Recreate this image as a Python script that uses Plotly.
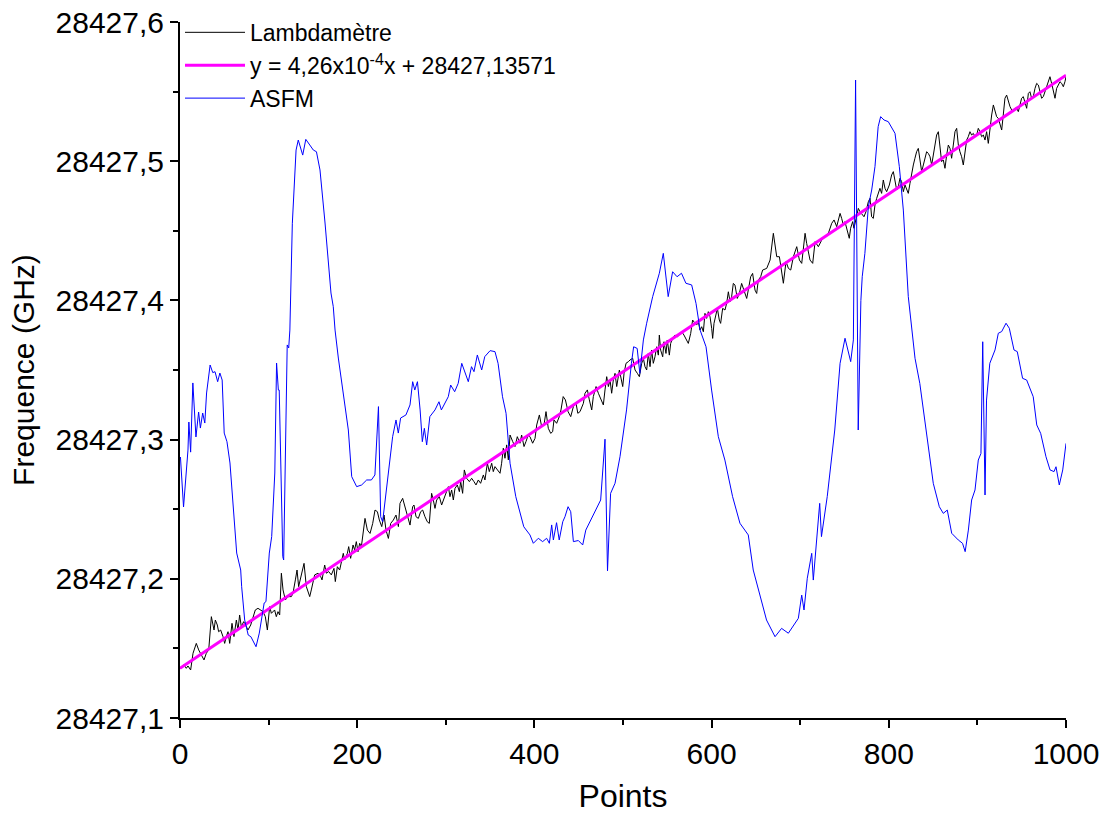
import plotly.graph_objects as go

# ---------------- data ----------------
lam_x = [1.5, 4.5, 7.1, 9.0, 12.0, 14.7, 18.4, 21.1, 24.1, 27.1, 29.7, 32.4, 35.4, 38.4, 39.9, 42.1, 43.6, 45.9,
         48.5, 50.4, 52.3, 54.2, 56.1, 58.7, 60.9, 63.6, 65.5, 67.3, 69.2, 71.9, 74.9, 76.7, 79.8, 82.4, 85.0,
         88.0, 91.0, 93.7, 96.3, 98.6, 101.2, 103.1, 106.8, 108.7, 110.6, 112.5, 114.4, 116.3, 118.9, 121.9,
         125.7, 127.5, 130.2, 132.1, 133.9, 136.9, 140.0, 142.6, 146.4, 148.2, 152.0, 155.8, 158.8, 160.3,
         163.3, 165.2, 167.8, 170.8, 173.8, 175.3, 177.6, 180.2, 182.1, 184.3, 185.8, 188.9, 190.4, 192.6,
         195.3, 197.1, 199.0, 200.9, 202.8, 204.7,
         208.8, 211.5, 214.5, 217.5, 220.1, 222.8, 225.0, 227.7, 230.3, 232.5, 235.2, 237.8, 240.8, 243.8, 246.5,
         248.3, 251.3, 253.9, 256.6, 259.6, 262.6, 264.1, 266.4, 269.0, 271.6, 273.9, 276.5, 279.1, 281.4,
         284.0, 285.9, 287.8, 289.7, 292.7, 295.3, 297.2, 299.1, 301.0, 302.9, 304.7, 306.6, 308.5, 310.4,
         313.0, 315.3, 316.8, 319.0, 320.9, 323.5, 326.6, 329.2, 331.8, 334.1, 336.7, 339.3, 342.4, 344.2,
         346.9, 349.1, 351.8, 353.6, 355.5, 358.2, 361.2, 363.0, 364.9, 366.8, 368.7, 370.6, 372.5, 375.5,
         378.1, 380.7, 383.7, 385.6, 388.3, 390.5, 393.1, 395.0, 398.0, 400.7, 402.6, 405.6, 408.2, 410.8,
         413.1, 415.7, 418.4, 420.6, 422.1, 425.1, 428.1,
         430.0, 432.5, 435.0, 438.0, 441.0, 444.0, 447.0, 449.0,
         451.5, 455.3, 457.1, 459.8, 462.0, 464.7, 466.5, 469.6, 472.2, 474.8, 477.8, 479.7, 481.6, 483.5,
         485.4, 487.2, 489.1, 491.0, 492.9, 495.9, 497.4, 499.7, 501.2, 503.4, 506.1, 507.9, 510.9, 513.6,
         516.2, 518.5,
         521.1, 523.0, 524.8, 526.7, 528.6, 530.5, 532.3, 534.2, 536.1, 538.0, 539.9, 541.0, 542.5, 544.8,
         546.3, 548.5, 550.0, 552.3, 553.8, 556.0, 558.7, 561.3, 563.6, 566.2, 568.8, 571.1, 573.7, 576.4,
         578.6, 581.3, 583.1, 585.0, 586.9, 588.8, 590.7, 592.5, 594.4, 596.3, 598.2, 600.1, 601.2, 602.7,
         604.9, 606.5, 608.7, 610.2, 612.5, 615.1, 617.0, 618.9, 620.8, 622.6, 624.5, 626.4, 629.0, 631.3,
         633.9, 636.6, 639.6, 641.4, 644.1, 646.3, 649.0, 650.9, 652.7, 655.4, 657.6,
         662.2, 666.0, 669.7, 673.5, 676.5, 679.1, 681.0, 684.0, 686.7, 689.3, 692.3, 696.1, 699.1, 701.7,
         705.5, 707.3, 711.1, 714.1, 716.8, 720.5, 724.3, 728.0, 731.8, 735.6, 738.2, 741.2, 745.0,
         746.8, 748.7, 750.5, 753.2, 755.4, 756.9, 759.2, 760.7, 763.0, 765.6, 767.5, 769.4, 772.0, 774.2,
         776.9, 778.8, 780.6, 782.5, 784.4, 786.3, 788.2, 790.0, 791.9, 793.8, 795.7, 797.6, 800.6, 803.2,
         805.1, 807.0, 808.9, 810.7, 812.6, 814.5, 816.4, 818.3, 820.1, 822.0, 823.9, 825.8, 827.7, 829.5,
         831.4, 833.3, 835.2, 837.1, 839.0, 840.8, 842.7, 844.6, 846.5, 848.4, 850.2, 852.1, 854.0, 855.9,
         857.8, 859.6, 861.5, 863.4, 865.3, 867.2, 869.1, 870.9, 872.8, 874.7, 876.6, 878.5, 880.3, 882.2,
         884.1, 886.0, 887.9, 889.7, 891.6, 893.5, 895.4, 897.3, 899.2, 901.0, 902.9, 904.8, 906.7, 908.6,
         910.4, 912.3, 914.2, 916.1, 918.0, 919.8, 921.7, 923.6, 925.5, 927.4, 929.2, 931.1, 933.0, 934.9,
         936.8, 938.7, 940.5, 942.4, 944.3, 946.2, 948.1, 949.9, 951.8, 953.7, 955.6, 957.5, 959.3, 961.2,
         963.1, 965.0, 966.9, 968.8, 970.6, 972.5, 974.4, 976.3, 978.2, 980.0, 981.9, 983.8, 985.7, 987.6,
         989.4, 991.3, 993.2, 995.1, 997.0, 998.8, 1000.0]

lam_y = [28427.1369, 28427.1381, 28427.1357, 28427.1374, 28427.1345, 28427.1465, 28427.1536, 28427.1489,
         28427.1453, 28427.1417, 28427.1465, 28427.1489, 28427.1728, 28427.1632, 28427.1704, 28427.1668,
         28427.1620, 28427.1632, 28427.1585, 28427.1536, 28427.1585, 28427.1620, 28427.1536, 28427.1680,
         28427.1585, 28427.1704, 28427.1632, 28427.1740, 28427.1656, 28427.1692, 28427.1656, 28427.1632,
         28427.1668, 28427.1728, 28427.1776, 28427.1788, 28427.1776, 28427.1764, 28427.1728, 28427.1632,
         28427.1800, 28427.1752, 28427.1776, 28427.1728, 28427.1764, 28427.1740, 28427.2040, 28427.1920,
         28427.1848, 28427.1872, 28427.1872, 28427.1896, 28427.1992, 28427.2063, 28427.1944, 28427.2016,
         28427.2111, 28427.1944, 28427.1872, 28427.1920, 28427.2028, 28427.2040, 28427.2016, 28427.1992,
         28427.2099, 28427.2040, 28427.2052, 28427.2028, 28427.2075, 28427.1980, 28427.2087, 28427.2063,
         28427.2111, 28427.2183, 28427.2135, 28427.2183, 28427.2231, 28427.2147, 28427.2243, 28427.2207,
         28427.2267, 28427.2195, 28427.2255, 28427.2231,
         28427.2434, 28427.2350, 28427.2326, 28427.2398, 28427.2494, 28427.2482, 28427.2422, 28427.2375,
         28427.2458, 28427.2350, 28427.2290, 28427.2398, 28427.2422, 28427.2458, 28427.2375,
         28427.2542, 28427.2578, 28427.2518, 28427.2446, 28427.2386, 28427.2518, 28427.2530, 28427.2446,
         28427.2434, 28427.2482, 28427.2494, 28427.2446, 28427.2410, 28427.2398, 28427.2614, 28427.2566,
         28427.2506, 28427.2566, 28427.2590, 28427.2530, 28427.2566, 28427.2590, 28427.2626, 28427.2662,
         28427.2590, 28427.2638, 28427.2566, 28427.2650, 28427.2674, 28427.2626, 28427.2698, 28427.2614,
         28427.2782, 28427.2722, 28427.2698, 28427.2722, 28427.2698, 28427.2674, 28427.2710, 28427.2686,
         28427.2746, 28427.2710, 28427.2830, 28427.2770, 28427.2830, 28427.2770, 28427.2806, 28427.2782,
         28427.2758, 28427.2830, 28427.2938, 28427.2866, 28427.2962, 28427.2854, 28427.3033, 28427.2986,
         28427.2950, 28427.3021, 28427.2974, 28427.3033, 28427.2950, 28427.2986, 28427.3033, 28427.3021,
         28427.2974, 28427.3009, 28427.3105, 28427.3177, 28427.3093, 28427.3105, 28427.3201, 28427.3081,
         28427.3045, 28427.3057, 28427.3141, 28427.3117, 28427.3165,
         28427.3213, 28427.3309, 28427.3285, 28427.3201, 28427.3165, 28427.3237, 28427.3261, 28427.3189,
         28427.3201, 28427.3261, 28427.3333, 28427.3357, 28427.3285, 28427.3213, 28427.3309, 28427.3381,
         28427.3333, 28427.3297, 28427.3249, 28427.3357, 28427.3452, 28427.3381, 28427.3428, 28427.3333,
         28427.3428, 28427.3476, 28427.3381, 28427.3500, 28427.3452, 28427.3381, 28427.3476, 28427.3548,
         28427.3560, 28427.3572, 28427.3584, 28427.3500, 28427.3476, 28427.3452,
         28427.3548, 28427.3583, 28427.3524, 28427.3500, 28427.3619, 28427.3524, 28427.3643, 28427.3548,
         28427.3595, 28427.3667, 28427.3607, 28427.3751, 28427.3643, 28427.3595, 28427.3703, 28427.3619,
         28427.3715, 28427.3607, 28427.3691, 28427.3727, 28427.3751, 28427.3739, 28427.3751, 28427.3775,
         28427.3751, 28427.3727, 28427.3691, 28427.3763, 28427.3859, 28427.3835, 28427.3823, 28427.3847,
         28427.3787, 28427.3811, 28427.3775, 28427.3907, 28427.3871, 28427.3919, 28427.3883, 28427.3799,
         28427.3727, 28427.3835, 28427.3907, 28427.3943, 28427.3859, 28427.3835, 28427.3943, 28427.3931,
         28427.3979, 28427.4062, 28427.3991, 28427.4026, 28427.4122, 28427.4110, 28427.4014, 28427.4050,
         28427.4122, 28427.4062, 28427.4014, 28427.4074, 28427.4170, 28427.4194, 28427.4074, 28427.4050,
         28427.4146, 28427.4170, 28427.4218,
         28427.4230, 28427.4290, 28427.4482, 28427.4314, 28427.4314, 28427.4218, 28427.4123, 28427.4278,
         28427.4230, 28427.4218, 28427.4314, 28427.4386, 28427.4290, 28427.4266, 28427.4482, 28427.4410,
         28427.4290, 28427.4266, 28427.4422, 28427.4386, 28427.4434, 28427.4458, 28427.4482, 28427.4554,
         28427.4578, 28427.4530, 28427.4625,
         28427.4589, 28427.4542, 28427.4566, 28427.4494, 28427.4446, 28427.4518, 28427.4566, 28427.4518,
         28427.4589, 28427.4661, 28427.4637, 28427.4625, 28427.4601, 28427.4637, 28427.4709, 28427.4733,
         28427.4601, 28427.4589, 28427.4685, 28427.4733, 28427.4781, 28427.4805, 28427.4769, 28427.4865,
         28427.4805, 28427.4781, 28427.4829, 28427.4901, 28427.4925, 28427.4865, 28427.4793, 28427.4817,
         28427.4877, 28427.4853, 28427.4781, 28427.4829, 28427.4805, 28427.4769, 28427.4841, 28427.4925,
         28427.4973, 28427.5021, 28427.5068, 28427.5092, 28427.5021, 28427.4925, 28427.4973, 28427.5021,
         28427.5068, 28427.5056, 28427.5032, 28427.4973, 28427.5044, 28427.5140, 28427.5188, 28427.5212,
         28427.5092, 28427.4997, 28427.5009, 28427.4949, 28427.5044, 28427.5116, 28427.5092, 28427.5021,
         28427.5116, 28427.5212, 28427.5236, 28427.5116, 28427.5068, 28427.5032, 28427.4973, 28427.5068,
         28427.5152, 28427.5176, 28427.5212, 28427.5188, 28427.5200, 28427.5176, 28427.5188, 28427.5236,
         28427.5212, 28427.5176, 28427.5188, 28427.5152, 28427.5212, 28427.5128, 28427.5236, 28427.5332,
         28427.5404, 28427.5368, 28427.5320, 28427.5308, 28427.5260, 28427.5224, 28427.5332, 28427.5452,
         28427.5475, 28427.5428, 28427.5392, 28427.5368, 28427.5356, 28427.5380, 28427.5380, 28427.5356,
         28427.5404, 28427.5452, 28427.5464, 28427.5428, 28427.5380, 28427.5487, 28427.5499, 28427.5452,
         28427.5464, 28427.5523, 28427.5559, 28427.5547, 28427.5499, 28427.5452, 28427.5464, 28427.5499,
         28427.5547, 28427.5583, 28427.5607, 28427.5559, 28427.5499, 28427.5452, 28427.5523, 28427.5547,
         28427.5571, 28427.5559, 28427.5535, 28427.5571, 28427.5607]

asfm_x = [0.5, 4, 9, 10, 12, 14.5, 18, 21, 23, 25.6, 28, 30, 34, 37, 39.5, 42.5, 45, 47.6, 49.9, 53, 56.4,
          60, 64, 68.5, 69.6, 73, 77, 80, 85.8, 89.5, 95, 97, 100.8, 103.5, 107, 109, 111, 112, 116, 117,
          119.6, 121, 122.7, 124, 126.8, 131, 133.5, 138.5, 142, 146.7, 150.5, 154, 158, 163.7, 170.4, 173,
          175, 178.7, 185.5, 190, 193.8, 199.4, 205, 210.7, 216, 220, 224, 226.5, 228.7, 232.5, 236, 240,
          243.8, 246.4, 249, 255, 259.6, 262.6, 265, 268, 271, 273.5, 275.8, 278.4, 282, 287.8, 292.3, 295,
          302.8, 305.5, 310, 314, 318, 325.4, 329, 331.8, 335.6, 340.5, 344, 350, 355.5, 359, 364, 368,
          372.5, 379, 388, 395, 398.8, 404.4, 409.3, 413.8, 416.9, 419.5, 421.4, 425, 428, 432, 434.5, 438,
          441, 444, 449.6, 454.5, 458, 462, 466.5, 474.8, 479.7, 482.5, 486, 491, 496.6, 504, 509.5, 512,
          516, 519, 523, 526.7, 533.5, 541, 545.5, 551, 556, 561, 566, 571, 577.5, 582.4, 587, 593.7, 600,
          607.6, 615, 623.7, 632, 641.4, 647, 654.6, 662, 671.6, 679, 686.6, 697.9, 701.7, 704.3, 708, 713,
          714.8, 722, 724, 730.5, 739, 745, 750.6, 757, 760, 762.5, 765.5, 768.5, 770, 773, 776.9, 780.7,
          784.4, 788, 790.8, 794.6, 799.4, 804.3, 807, 811.9, 816.4, 822, 829.6, 835, 839, 842.8, 850.2,
          857, 861.5, 866, 871, 878.4, 883.2, 886.2, 889.8, 893.5, 897.3, 901, 904, 906, 908.6, 910.3, 914,
          919.9, 923.6, 927.4, 932.3, 936, 941.3, 945, 951, 955.6, 963, 967, 971.4, 977.4, 982, 986.5,
          988.7, 992.4, 996.3, 1000]

asfm_y = [28427.2875, 28427.2516, 28427.2925, 28427.3126, 28427.2910, 28427.3407, 28427.3019, 28427.3198,
          28427.3083, 28427.3191, 28427.3119, 28427.3335, 28427.3536, 28427.3481, 28427.3488, 28427.3416,
          28427.3478, 28427.3428, 28427.3047, 28427.2985, 28427.2832, 28427.2516, 28427.2185, 28427.2063,
          28427.1943, 28427.1704, 28427.1596, 28427.1584, 28427.1512, 28427.1610, 28427.1826, 28427.1836,
          28427.2185, 28427.2303, 28427.2760, 28427.3550, 28427.3356, 28427.3356, 28427.2159, 28427.2135,
          28427.3191, 28427.3680, 28427.3658, 28427.3787, 28427.4554, 28427.5080, 28427.5152, 28427.5044,
          28427.5157, 28427.5116, 28427.5080, 28427.5068, 28427.4937, 28427.4556, 28427.4053, 28427.3955,
          28427.3787, 28427.3586, 28427.3284, 28427.3069, 28427.2734, 28427.2662, 28427.2674, 28427.2710,
          28427.2710, 28427.2746, 28427.3237, 28427.2446, 28427.2410, 28427.2614, 28427.2830, 28427.3021,
          28427.3141, 28427.3047, 28427.3155, 28427.3177, 28427.3249, 28427.3416, 28427.3356, 28427.3416,
          28427.3213, 28427.2985, 28427.3081, 28427.2961, 28427.3165, 28427.3213, 28427.3272, 28427.3213,
          28427.3308, 28427.3392, 28427.3344, 28427.3404, 28427.3548, 28427.3416, 28427.3524, 28427.3488,
          28427.3608, 28427.3500, 28427.3596, 28427.3639, 28427.3632, 28427.3548, 28427.3308, 28427.3189,
          28427.2830, 28427.2590, 28427.2374, 28427.2315, 28427.2255, 28427.2291, 28427.2267, 28427.2291,
          28427.2255, 28427.2387, 28427.2279, 28427.2403, 28427.2279, 28427.2410, 28427.2446, 28427.2518,
          28427.2482, 28427.2267, 28427.2275, 28427.2243, 28427.2350, 28427.2399, 28427.2458, 28427.2566,
          28427.3003, 28427.2057, 28427.2614, 28427.2686, 28427.2877, 28427.3213, 28427.3548, 28427.3667,
          28427.3655, 28427.3476, 28427.3716, 28427.3836, 28427.4027, 28427.4195, 28427.4338, 28427.4027,
          28427.4206, 28427.4170, 28427.4195, 28427.4123, 28427.4111, 28427.3979, 28427.3787, 28427.3667,
          28427.3356, 28427.3021, 28427.2853, 28427.2590, 28427.2399, 28427.2315, 28427.2063, 28427.1871,
          28427.1704, 28427.1584, 28427.1644, 28427.1609, 28427.1716, 28427.1883, 28427.1776, 28427.2004,
          28427.2183, 28427.1991, 28427.2542, 28427.2303, 28427.2590, 28427.3069, 28427.3548, 28427.3728,
          28427.3560, 28427.3716, 28427.5583, 28427.3069, 28427.4000, 28427.4170, 28427.4338, 28427.4673,
          28427.4793, 28427.4961, 28427.5248, 28427.5320, 28427.5296, 28427.5284, 28427.5236, 28427.5200,
          28427.4961, 28427.4649, 28427.4027, 28427.3584, 28427.3404, 28427.3213, 28427.3045, 28427.2686,
          28427.2518, 28427.2470, 28427.2494, 28427.2327, 28427.2279, 28427.2255, 28427.2195, 28427.2350,
          28427.2566, 28427.2638, 28427.2853, 28427.2900, 28427.3703, 28427.2602, 28427.3284, 28427.3548,
          28427.3644, 28427.3764, 28427.3776, 28427.3836, 28427.3800, 28427.3644, 28427.3632, 28427.3440,
          28427.3428, 28427.3308, 28427.3105, 28427.3045, 28427.2877, 28427.2782, 28427.2770, 28427.2805,
          28427.2674, 28427.2782, 28427.2973]

fit_slope = 4.26e-4
fit_intercept = 28427.13571
fit_x = [0, 1000]

x_tickvals = [0, 200, 400, 600, 800, 1000]
x_ticktext = ["0", "200", "400", "600", "800", "1000"]
y_tickvals = [28427.1, 28427.2, 28427.3, 28427.4, 28427.5, 28427.6]
y_ticktext = ["28427,1", "28427,2", "28427,3", "28427,4", "28427,5", "28427,6"]

series_names = ["Lambdamètre", "y = 4,26x10<sup>-4</sup>x + 28427,13571", "ASFM"]

# ---------------- figure ----------------
fit_y = [fit_intercept + fit_slope * v for v in fit_x]
FONT = "Liberation Sans, Arial, sans-serif"

fig = go.Figure()
fig.add_trace(go.Scatter(x=lam_x, y=lam_y, mode="lines", name=series_names[0],
                         line=dict(color="black", width=1), legendgroup="a"))
fig.add_trace(go.Scatter(x=fit_x, y=fit_y, mode="lines", name=series_names[1],
                         line=dict(color="#FF00FF", width=3), legendgroup="b"))
fig.add_trace(go.Scatter(x=asfm_x, y=asfm_y, mode="lines", name=series_names[2],
                         line=dict(color="#0000FF", width=1), legendgroup="c"))

fig.update_layout(
    width=1102, height=814,
    margin=dict(l=180, r=36, t=22, b=96, autoexpand=False),
    paper_bgcolor="white", plot_bgcolor="white",
    font=dict(family=FONT, size=23, color="black"),
    showlegend=True,
    legend=dict(x=0.0, y=1.016, xanchor="left", yanchor="top", bgcolor="rgba(0,0,0,0)",
                font=dict(family=FONT, size=23, color="black"), tracegroupgap=0,
                itemwidth=60),
    xaxis=dict(range=[0, 1000], showgrid=False, zeroline=False, automargin=False,
               showline=True, linecolor="black", linewidth=2,
               ticks="outside", ticklen=8, tickwidth=2, tickcolor="black",
               tickvals=x_tickvals, ticktext=x_ticktext, ticklabeloverflow="allow",
               minor=dict(dtick=100, ticks="outside", ticklen=5, tickwidth=2, tickcolor="black", showgrid=False),
               title=dict(text="Points", font=dict(family=FONT, size=32), standoff=16),
               tickfont=dict(family=FONT, size=30)),
    yaxis=dict(range=[28427.1, 28427.6], showgrid=False, zeroline=False, automargin=False,
               showline=True, linecolor="black", linewidth=2,
               ticks="outside", ticklen=8, tickwidth=2, tickcolor="black",
               tickvals=y_tickvals, ticktext=y_ticktext, ticklabeloverflow="allow",
               minor=dict(tick0=28427.1, dtick=0.05, ticks="outside", ticklen=5, tickwidth=2, tickcolor="black", showgrid=False),
               title=dict(text="Frequence (GHz)", font=dict(family=FONT, size=30), standoff=12),
               tickfont=dict(family=FONT, size=30)),
)

fig.write_html("out.html", config={"displayModeBar": False},
               post_script="document.body.style.margin='0px';")
